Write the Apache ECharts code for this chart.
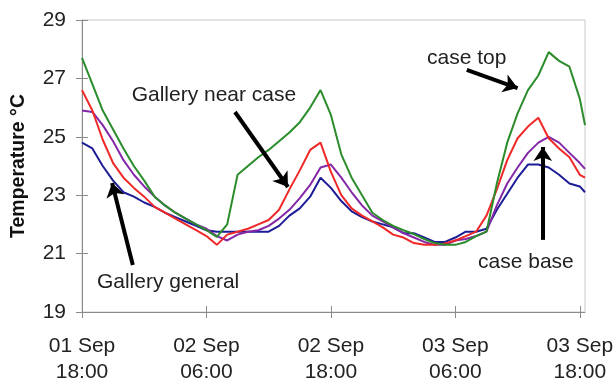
<!DOCTYPE html>
<html>
<head>
<meta charset="utf-8">
<script src="https://cdn.jsdelivr.net/npm/echarts@6/dist/echarts.min.js"></script>
<style>
html,body{margin:0;padding:0;background:#fff;}
#chart{width:615px;height:380px;}
</style>
</head>
<body>
<div id="chart"></div>
<script>
// Hours elapsed since 01 Sep 18:00
var hours = [0,1,2,3,4,5,6,7,8,9,10,11,12,13,14,15,16,17,18,19,20,21,22,23,24,25,26,27,28,29,30,31,32,33,34,35,36,37,38,39,40,41,42,43,44,45,46,47,48,48.5];
var xTickValues = [0,12,24,36,48];
var xTickLabels = ['01 Sep\n18:00','02 Sep\n06:00','02 Sep\n18:00','03 Sep\n06:00','03 Sep\n18:00'];

var caseTop = [27.7,26.8,25.9,25.25,24.6,24.0,23.5,22.95,22.65,22.4,22.2,22.0,21.8,21.57,22.0,23.7,24.0,24.3,24.55,24.85,25.15,25.5,26.0,26.6,25.75,24.4,23.6,23.0,22.4,22.15,21.95,21.8,21.67,21.5,21.36,21.3,21.3,21.4,21.6,21.75,23.4,24.8,25.8,26.6,27.1,27.9,27.6,27.4,26.3,25.4];
var nearCase = [26.6,25.9,24.9,24.1,23.6,23.25,22.95,22.6,22.4,22.2,22.0,21.8,21.6,21.3,21.65,21.75,21.85,22.0,22.15,22.5,23.2,23.85,24.55,24.8,23.8,23.0,22.55,22.3,22.1,21.9,21.65,21.55,21.36,21.3,21.3,21.35,21.45,21.6,21.75,22.3,23.2,24.2,24.95,25.35,25.65,24.95,24.6,24.3,23.7,23.6];
var caseBase = [25.9,25.85,25.4,24.85,24.2,23.7,23.3,22.95,22.65,22.4,22.2,22.0,21.85,21.6,21.45,21.65,21.75,21.8,21.95,22.2,22.5,22.9,23.35,23.95,24.05,23.6,23.1,22.65,22.3,22.1,21.9,21.7,21.55,21.4,21.3,21.3,21.45,21.5,21.6,21.75,22.65,23.4,23.95,24.45,24.8,25.0,24.8,24.45,24.1,23.9];
var galleryGeneral = [24.8,24.6,24.0,23.5,23.1,22.95,22.75,22.6,22.4,22.25,22.1,21.95,21.8,21.75,21.75,21.75,21.75,21.75,21.75,21.95,22.3,22.55,22.95,23.6,23.25,22.8,22.45,22.25,22.1,22.0,21.9,21.7,21.7,21.55,21.4,21.4,21.55,21.75,21.75,21.85,22.5,23.05,23.6,24.05,24.05,23.95,23.7,23.4,23.3,23.1];

// Annotations: label, text position [h, degC], arrow from, arrow to
var annotations = [
  {text:'Gallery near case', at:[12.72,26.43], from:[14.75,25.85], to:[19.86,23.28]},
  {text:'case top', at:[37.1,27.7], from:[37.1,27.29], to:[42.0,26.67]},
  {text:'Gallery general', at:[8.3,20.03], from:[4.9,20.61], to:[2.9,23.42]},
  {text:'case base', at:[42.8,20.7], from:[44.43,21.47], to:[44.43,24.65]}
];

function zip(v){ return hours.map(function(h,i){ return [h, v[i]]; }); }

var FONT = 'Liberation Sans';
var chart = echarts.init(document.getElementById('chart'), null, {renderer:'canvas'});

function lineSeries(name, data, color, extra){
  var s = {
    name:name, type:'line', data:zip(data), showSymbol:false, symbol:'none',
    xAxisIndex:0, yAxisIndex:0,
    lineStyle:{color:color, width:2}, itemStyle:{color:color},
    animation:false, z:3
  };
  if (extra) for (var k in extra) s[k]=extra[k];
  return s;
}

var option = {
  backgroundColor:'#ffffff',
  animation:false,
  grid:{left:82, top:20, right:30, bottom:68, containLabel:false, outerBoundsMode:'none',
        show:true, borderColor:'#c8c8c8', borderWidth:1, backgroundColor:'transparent'},
  xAxis:[{
    type:'value', min:0, max:48.5,
    axisLine:{show:true, lineStyle:{color:'#8a8a8a', width:1}},
    axisTick:{show:true, inside:false, length:6, lineStyle:{color:'#8a8a8a'}, customValues:xTickValues},
    axisLabel:{show:true, customValues:xTickValues, margin:21, fontFamily:FONT, fontSize:21, color:'#222', lineHeight:26,
      formatter:function(v){ var i = xTickValues.indexOf(v); return i>=0 ? xTickLabels[i] : ''; }},
    splitLine:{show:false}
  },{
    type:'value', min:0, max:48.5, position:'bottom',
    axisLine:{show:false},
    axisTick:{show:true, inside:true, length:6, lineStyle:{color:'#8a8a8a'}, customValues:xTickValues},
    axisLabel:{show:false},
    splitLine:{show:false}
  }],
  yAxis:[{
    type:'value', min:19, max:29, interval:2,
    name:'Temperature °C', nameLocation:'middle', nameGap:53, nameRotate:90,
    nameTextStyle:{fontFamily:FONT, fontSize:19.5, fontWeight:'bold', color:'#111'},
    axisLine:{show:true, lineStyle:{color:'#8a8a8a', width:1}},
    axisTick:{show:true, inside:false, length:6, lineStyle:{color:'#8a8a8a'}},
    axisLabel:{fontFamily:FONT, fontSize:21, color:'#222', margin:16},
    splitLine:{show:false}
  },{
    type:'value', min:19, max:29, interval:2, position:'left',
    axisLine:{show:false},
    axisTick:{show:true, inside:true, length:6, lineStyle:{color:'#8a8a8a'}},
    axisLabel:{show:false},
    splitLine:{show:false}
  }],
  series:[
    lineSeries('Gallery general', galleryGeneral, '#1c1c96'),
    lineSeries('case base', caseBase, '#8428a8'),
    lineSeries('Gallery near case', nearCase, '#f02828'),
    lineSeries('case top', caseTop, '#2a8c2a', {
      markLine:{
        silent:true, animation:false, symbol:['none','arrow'], symbolSize:[14,14],
        lineStyle:{color:'#000', width:4, type:'solid'},
        label:{show:false},
        data: annotations.map(function(a){ return [{coord:a.from},{coord:a.to}]; })
      },
      markPoint:{
        silent:true, animation:false, symbol:'circle', symbolSize:0,
        itemStyle:{color:'transparent'},
        label:{show:true, position:'inside', fontFamily:FONT, fontSize:21, color:'#222',
          formatter:function(p){ return p.name; }},
        data: annotations.map(function(a){ return {name:a.text, coord:a.at, value:0}; })
      }
    })
  ]
};
chart.setOption(option);
</script>
</body>
</html>
